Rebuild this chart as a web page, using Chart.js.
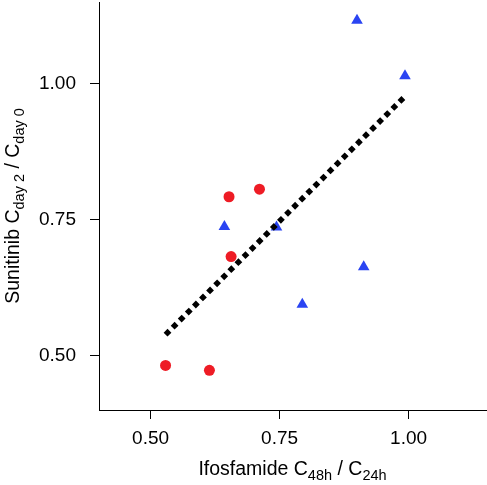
<!DOCTYPE html>
<html>
  <head>
    <title>Sunitinib vs Ifosfamide</title>
    <script src="https://cdn.jsdelivr.net/npm/chart.js"></script>
    <style>
      html, body { margin: 0; padding: 0; background: #fff; }
      #wrap { width: 487px; height: 485px; }
    </style>
  </head>
  <body>
    <div id="wrap"><canvas id="plot"></canvas></div>

    <script>
      // values
      const redX = [0.529, 0.614, 0.652, 0.711, 0.656];
      const redY = [0.482, 0.473, 0.792, 0.806, 0.682];
      const blueX = [0.900, 0.993, 0.643, 0.744, 0.913, 0.794];
      const blueY = [1.116, 1.014, 0.737, 0.736, 0.663, 0.594];
      const fitX = [0.529, 0.9935];
      const fitY = [0.5385, 0.977];
      const xTicks = [0.5, 0.75, 1.0];
      const yTicks = [0.5, 0.75, 1.0];

      const pts = (xs, ys) => xs.map((x, i) => ({ x: x, y: ys[i] }));

      Chart.defaults.font.family = "'Liberation Sans', Arial, sans-serif";
      Chart.defaults.font.size = 19;
      Chart.defaults.color = "#000";

      // axis titles with subscripts
      function richText(ctx, parts) {
        let w = 0;
        parts.forEach((p) => {
          ctx.font = (p.sub ? 14.5 : 19.5) + "px 'Liberation Sans', Arial, sans-serif";
          p.w = ctx.measureText(p.t).width;
          w += p.w;
        });
        let x = -w / 2;
        parts.forEach((p) => {
          ctx.font = (p.sub ? 14.5 : 19.5) + "px 'Liberation Sans', Arial, sans-serif";
          ctx.fillText(p.t, x, p.sub ? 5 : 0);
          x += p.w;
        });
      }

      const titles = {
        id: "titles",
        afterDraw(chart) {
          const ctx = chart.ctx;
          const a = chart.chartArea;
          ctx.save();
          ctx.fillStyle = "#000";
          ctx.textBaseline = "alphabetic";
          ctx.textAlign = "left";

          ctx.save();
          ctx.translate((a.left + a.right) / 2, 475);
          richText(ctx, [
            { t: "Ifosfamide C" },
            { t: "48h", sub: true },
            { t: " / C" },
            { t: "24h", sub: true },
          ]);
          ctx.restore();

          ctx.save();
          ctx.translate(18.5, (a.top + a.bottom) / 2);
          ctx.rotate(-Math.PI / 2);
          richText(ctx, [
            { t: "Sunitinib C" },
            { t: "day 2", sub: true },
            { t: " / C" },
            { t: "day 0", sub: true },
          ]);
          ctx.restore();
          ctx.restore();
        },
      };

      new Chart(document.getElementById("plot"), {
        type: "scatter",
        data: {
          datasets: [
            {
              label: "fit",
              data: pts(fitX, fitY),
              showLine: true,
              borderColor: "#000",
              borderWidth: 5.5,
              borderDash: [5.5, 4.5],
              borderCapStyle: "butt",
              pointRadius: 0,
            },
            {
              label: "red",
              data: pts(redX, redY),
              pointStyle: "circle",
              pointRadius: 5.5,
              backgroundColor: "#EE1C25",
              borderWidth: 0,
            },
            {
              label: "blue",
              data: pts(blueX, blueY),
              pointStyle: "triangle",
              pointRadius: 6.7,
              backgroundColor: "#2A44F2",
              borderWidth: 0,
            },
          ],
        },
        options: {
          responsive: true,
          maintainAspectRatio: false,
          animation: false,
          layout: { autoPadding: false, padding: { top: 2, right: 1, left: 0, bottom: 0 } },
          plugins: { legend: { display: false }, tooltip: { enabled: false } },
          scales: {
            x: {
              min: 0.4,
              max: 1.15,
              afterBuildTicks: (s) => { s.ticks = xTicks.map((v) => ({ value: v })); },
              afterFit: (s) => {
                s.height = 75;
                s.paddingLeft = 0;
                s.paddingRight = 0;
              },
              grid: { drawOnChartArea: false, drawTicks: true, tickLength: 9, color: "#000" },
              border: { display: true, color: "#000", width: 1 },
              ticks: { padding: 8, maxRotation: 0, callback: (v) => v.toFixed(2) },
            },
            y: {
              min: 0.4,
              max: 1.15,
              afterBuildTicks: (s) => { s.ticks = yTicks.map((v) => ({ value: v })); },
              afterFit: (s) => {
                s.width = 99;
                s.paddingTop = 0;
                s.paddingBottom = 0;
              },
              grid: { drawOnChartArea: false, drawTicks: true, tickLength: 9, color: "#000" },
              border: { display: true, color: "#000", width: 1 },
              ticks: { padding: 14, callback: (v) => v.toFixed(2) },
            },
          },
        },
        plugins: [titles],
      });
    </script>
  </body>
</html>
